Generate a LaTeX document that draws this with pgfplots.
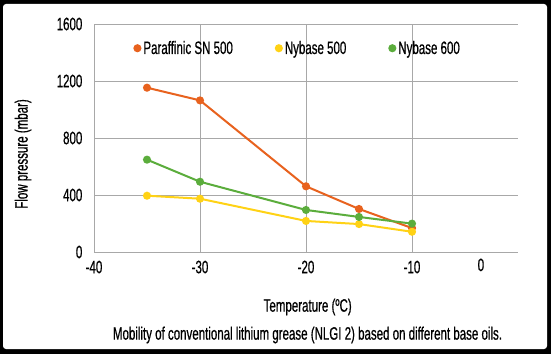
\documentclass[border=0pt]{standalone}
\usepackage{pgfplots}
\pgfplotsset{compat=1.18}
\usepackage{fontspec}
\setmainfont[FakeStretch=0.64,FakeBold=0.6]{Liberation Sans}
\definecolor{cOr}{HTML}{E8621E}
\definecolor{cYe}{HTML}{FFD215}
\definecolor{cGr}{HTML}{5BAD3C}
\definecolor{cGrid}{HTML}{A8A8A8}
\begin{document}
\begin{tikzpicture}[x=1pt,y=1pt]
\fill[black] (0,0) rectangle (551,354);
\fill[white,rounded corners=3pt] (3,5) rectangle (547,350);
\begin{axis}[
  at={(94pt,102pt)}, anchor=south west,
  scale only axis, width=424pt, height=228pt,
  xmin=-40, xmax=0, ymin=0, ymax=1600,
  xtick={-40,-30,-20,-10}, ytick={0,400,800,1200,1600},
  extra x ticks={-3.5}, extra x tick labels={0},
  extra x tick style={grid=none, major tick length=0pt},
  axis x line=bottom, axis y line=left,
  axis line style={cGrid, line width=1pt, -},
  major grid style={cGrid, line width=0.9pt},
  grid=major,
  tick style={draw=none},
  font=\fontsize{18}{20}\selectfont,
  /pgf/number format/assume math mode=true,
  /pgf/number format/1000 sep={},
  xticklabel style={yshift=-3pt},
  yticklabel style={xshift=-6pt},
  xlabel={Temperature (ºC)},
  ylabel={Flow pressure (mbar)},
  xlabel style={at={(axis description cs:0.504,0)}, anchor=center, yshift=-55pt},
  ylabel style={at={(axis description cs:0,0.43)}, anchor=center, yshift=71pt},
  legend columns=3,
  legend style={draw=none, fill=none, at={(axis cs:-36.3,1430)}, anchor=west,
    font=\fontsize{18}{20}\selectfont,
    /tikz/every even column/.append style={column sep=40pt},
    inner sep=0pt},
  legend image code/.code={\fill[#1] (0pt,0pt) circle (3pt);},
  every axis plot/.append style={line width=2pt, mark=*, mark size=3pt},
]
\addplot[cOr, mark options={fill=cOr, draw=cOr}] coordinates {(-35,1153) (-30,1064) (-20,461) (-15,302) (-10,168)};
\addlegendentry{Paraffinic SN 500}
\addplot[cYe, mark options={fill=cYe, draw=cYe}] coordinates {(-35,395) (-30,374) (-20,218) (-15,196) (-10,142)};
\addlegendentry{Nybase 500}
\addplot[cGr, mark options={fill=cGr, draw=cGr}] coordinates {(-35,648) (-30,493) (-20,295) (-15,246) (-10,199)};
\addlegendentry{Nybase 600}
\end{axis}
\node[font=\fontsize{18}{20}\selectfont, anchor=center] at (307.5,354-335) {Mobility of conventional lithium grease (NLGI 2) based on different base oils.};
\end{tikzpicture}
\end{document}
